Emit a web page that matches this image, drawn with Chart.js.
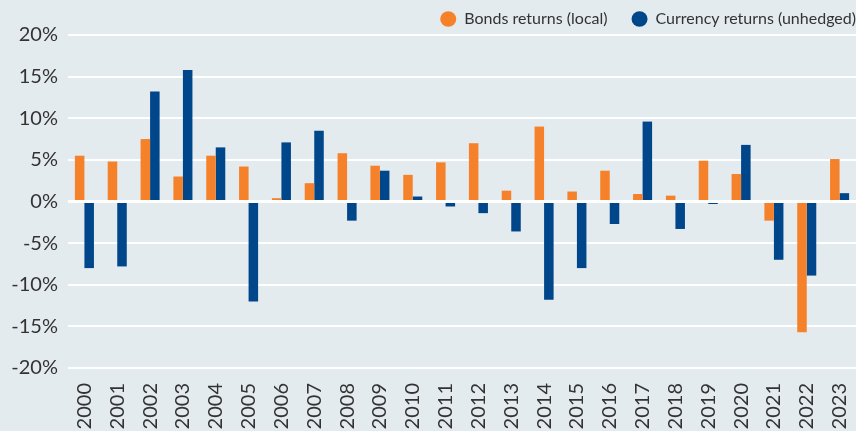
<!DOCTYPE html>
<html>
<head>
<meta charset="utf-8">
<script src="https://cdn.jsdelivr.net/npm/chart.js@4"></script>
<style>
  html, body { margin: 0; padding: 0; background: #e4ebee; }
  #wrap { width: 856px; height: 431px; }
</style>
</head>
<body>
<div id="wrap"><canvas id="myChart"></canvas></div>
<script>
// Years on the x axis
const years = ['2000','2001','2002','2003','2004','2005','2006','2007','2008','2009','2010','2011',
  '2012','2013','2014','2015','2016','2017','2018','2019','2020','2021','2022','2023'];

// Returns in %
const bondsReturns = [5.5, 4.8, 7.5, 3.0, 5.5, 4.2, 0.4, 2.2, 5.8, 4.3, 3.2, 4.7,
  7.0, 1.3, 9.0, 1.2, 3.7, 0.9, 0.7, 4.9, 3.3, -2.3, -15.7, 5.1];
const currencyReturns = [-8.0, -7.8, 13.2, 15.8, 6.5, -12.0, 7.1, 8.5, -2.3, 3.7, 0.6, -0.6,
  -1.4, -3.6, -11.8, -8.0, -2.7, 9.6, -3.3, -0.3, 6.8, -7.0, -8.9, 1.0];

const yTicks = [-20, -15, -10, -5, 0, 5, 10, 15, 20];

// white zero line on top of the bars
const zeroLine = {
  id: 'zeroLine',
  afterDatasetsDraw(chart) {
    const y = chart.scales.y.getPixelForValue(0);
    const ctx = chart.ctx;
    ctx.save();
    ctx.strokeStyle = '#ffffff';
    ctx.lineWidth = 3;
    ctx.beginPath();
    ctx.moveTo(chart.chartArea.left, y);
    ctx.lineTo(chart.chartArea.right, y);
    ctx.stroke();
    ctx.restore();
  }
};

// legend: fixed height, pushed to the right edge
const legendFix = {
  id: 'legendFix',
  beforeInit(chart) {
    const fit = chart.legend.fit;
    chart.legend.fit = function () { fit.call(this); this.height = 35; };
  },
  beforeDraw(chart) {
    chart.legend.right = chart.width + 24;
    chart.legend.top = -13;
  }
};

const data = {
  labels: years,
  datasets: [{
    label: 'Bonds returns (local)',
    backgroundColor: '#f5822a',
    data: bondsReturns,
    barPercentage: 1,
    categoryPercentage: 0.58
  },
  {
    label: 'Currency returns (unhedged)',
    backgroundColor: '#00468b',
    data: currencyReturns,
    barPercentage: 1,
    categoryPercentage: 0.58
  }]
};

const config = {
  type: 'bar',
  data: data,
  options: {
    responsive: true,
    maintainAspectRatio: false,
    animation: false,
    layout: {
      padding: { left: 0, right: 0, top: 0, bottom: 0 }
    },
    plugins: {
      legend: {
        position: 'top',
        align: 'end',
        labels: {
          usePointStyle: true,
          pointStyle: 'circle',
          pointStyleWidth: 16,
          boxHeight: 11,
          color: '#333333',
          padding: 24,
          font: { family: 'Lato', size: 16 }
        }
      },
      tooltip: { enabled: false }
    },
    scales: {
      x: {
        grid: { display: false, drawTicks: false },
        border: { display: false },
        afterFit: (axis) => {
          axis.height = 63;
          axis.paddingLeft = 0;
          axis.paddingRight = 0;
        },
        ticks: {
          color: '#333333',
          font: { family: 'Lato', size: 20 },
          minRotation: 90,
          maxRotation: 90,
          autoSkip: false,
          padding: 15
        }
      },
      y: {
        min: yTicks[0],
        max: yTicks[yTicks.length - 1],
        grid: { color: '#ffffff', lineWidth: 2, drawTicks: false },
        border: { display: false },
        afterFit: (axis) => { axis.width = 68; },
        afterBuildTicks: (axis) => { axis.ticks = yTicks.map(v => ({ value: v })); },
        ticks: {
          color: '#333333',
          font: { family: 'Lato', size: 20 },
          padding: 10,
          callback: (v) => v + '%'
        }
      }
    }
  },
  plugins: [zeroLine, legendFix]
};

const myChart = new Chart(document.getElementById('myChart'), config);
</script>
</body>
</html>
